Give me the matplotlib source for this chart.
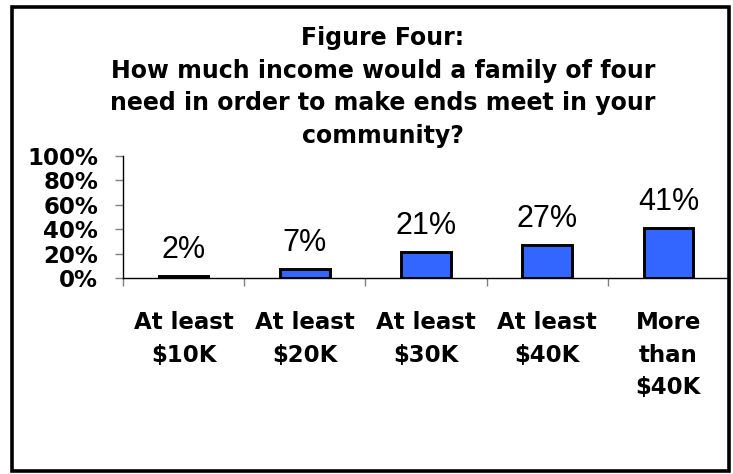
import matplotlib
matplotlib.use("Agg")
import matplotlib.pyplot as plt
from matplotlib.patches import Rectangle
from matplotlib.ticker import FixedLocator, FuncFormatter

categories = ["At least\n$10K", "At least\n$20K", "At least\n$30K",
              "At least\n$40K", "More\nthan\n$40K"]
shares = [2, 7, 21, 27, 41]
yticks = [0, 20, 40, 60, 80, 100]

title = ("Figure Four:\nHow much income would a family of four\n"
         "need in order to make ends meet in your\ncommunity?")

W, H = 733, 474
fig = plt.figure(figsize=(W / 100, H / 100), dpi=100)
fig.patch.set_facecolor("white")

# outer border around the whole chart
fig.patches.append(Rectangle((12 / W, 1 - 471 / H), (729 - 12) / W, (471 - 7) / H,
                             transform=fig.transFigure, fill=False,
                             edgecolor="black", linewidth=2.6))

fig.text(383 / W, 1 - 26 / H, title, ha="center", va="top",
         multialignment="center", fontsize=17, fontweight="bold",
         family="DejaVu Sans", linespacing=1.45)

ax = fig.add_axes([123 / W, 1 - 278 / H, (729 - 123) / W, 122 / H])
ax.set_facecolor("white")

xs = [i + 0.5 for i in range(len(shares))]
bars = ax.bar(xs, shares, width=0.41, color="#3366FF", edgecolor="black",
              linewidth=2.1)
for x, v in zip(xs, shares):
    ax.annotate(f"{v}%", (x, v), xytext=(0, 13), textcoords="offset points",
                ha="center", va="baseline", fontsize=22,
                family=["Liberation Sans", "DejaVu Sans"])

ax.set_xlim(0, len(shares))
ax.set_ylim(0, 100)

for s in ["top", "right"]:
    ax.spines[s].set_visible(False)
ax.spines["left"].set_linewidth(1.0)
ax.spines["bottom"].set_linewidth(1.0)

ax.set_yticks(yticks)
ax.yaxis.set_major_formatter(FuncFormatter(lambda v, p: f"{int(v)}%"))
ax.tick_params(axis="y", length=6, width=1, color="#808080", pad=12,
               labelsize=16.5)
for lab in ax.get_yticklabels():
    lab.set_fontweight("bold")

# category boundaries carry the ticks, centres carry the labels
ax.xaxis.set_major_locator(FixedLocator(range(len(shares) + 1)))
ax.xaxis.set_major_formatter(FuncFormatter(lambda v, p: ""))
ax.xaxis.set_minor_locator(FixedLocator(xs))
ax.set_xticklabels(categories, minor=True)
ax.tick_params(axis="x", which="major", length=6, width=1, color="#808080")
ax.tick_params(axis="x", which="minor", length=0, pad=24, labelsize=16.5)
for lab in ax.get_xticklabels(minor=True):
    lab.set_fontweight("bold")
    lab.set_linespacing(1.52)
    lab.set_verticalalignment("top")

fig.savefig("out.png", dpi=100, facecolor="white")
